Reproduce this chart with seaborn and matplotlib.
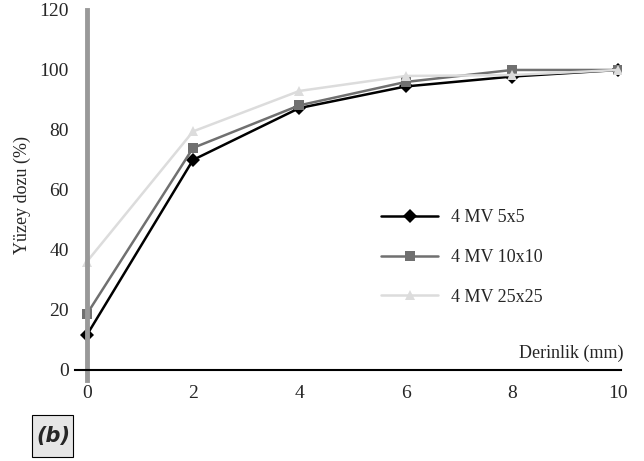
import pandas as pd
import seaborn as sns
import matplotlib.pyplot as plt
from matplotlib.patches import Rectangle

# data
depth = [0, 2, 4, 6, 8, 10]
dose_5x5 = [11.5, 70, 87.3, 94.5, 97.8, 100]
dose_10x10 = [18.5, 74, 88.2, 96, 100, 100]
dose_25x25 = [36, 79.5, 93, 98, 98.3, 100]
series_names = ['4 MV 5x5', '4 MV 10x10', '4 MV 25x25']
x_ticks = [0, 2, 4, 6, 8, 10]
y_ticks = [0, 20, 40, 60, 80, 100, 120]

df = pd.DataFrame({
    'Derinlik': depth * 3,
    'Doz': dose_5x5 + dose_10x10 + dose_25x25,
    'Alan': [n for n in series_names for _ in depth],
})

sns.set_style('white')
plt.rcParams['font.family'] = ['Liberation Serif', 'DejaVu Serif']

fig = plt.figure(figsize=(6.44, 4.61), dpi=100)
ax = fig.add_axes([75 / 644, 1 - 380 / 461, (621 - 75) / 644, 370 / 461])

sns.lineplot(
    data=df, x='Derinlik', y='Doz', hue='Alan', style='Alan',
    palette=['#000000', '#707070', '#dcdcdc'],
    markers=['D', 's', '^'], dashes=False, markersize=7,
    markeredgewidth=0, linewidth=1.8, ax=ax,
)

ax.set_xlim(-0.22, 10.05)
ax.set_ylim(-3.4, 120)
ax.set_xticks(x_ticks)
ax.set_yticks(y_ticks)

for s in ['top', 'right']:
    ax.spines[s].set_visible(False)
ax.spines['left'].set_position(('data', 0))
ax.spines['left'].set_color('#999999')
ax.spines['left'].set_linewidth(3.5)
ax.spines['bottom'].set_position(('data', 0))
ax.spines['bottom'].set_color('black')
ax.spines['bottom'].set_linewidth(1.5)

ax.tick_params(axis='x', direction='out', length=8, width=3, color='#999999',
               labelsize=14, pad=3)
ax.tick_params(axis='y', direction='out', length=9, width=1.5, color='black',
               labelsize=14, pad=4)

ax.set_xlabel('')
ax.set_ylabel('Yüzey dozu (%)', fontsize=13, labelpad=6)
ax.text(10.1, 2.5, 'Derinlik (mm)', fontsize=13, ha='right', va='bottom')

leg = ax.legend(loc='upper left', bbox_to_anchor=(0.53, 0.505), frameon=False,
                fontsize=13, labelspacing=1.25, handlelength=3.2,
                handletextpad=0.7)
for h in leg.legend_handles:
    h.set_markersize(7)

# (b) panel tag
fig.patches.append(Rectangle((32 / 644, 1 - 457 / 461), 41 / 644, 42 / 461,
                             transform=fig.transFigure, facecolor='#e6e6e6',
                             edgecolor='black', linewidth=0.8))
fig.text(53 / 644, 1 - 436 / 461, '(b)', fontsize=15, fontweight='bold',
         fontstyle='italic', family='DejaVu Sans', va='center', ha='center')

fig.savefig('out.png', dpi=100)
